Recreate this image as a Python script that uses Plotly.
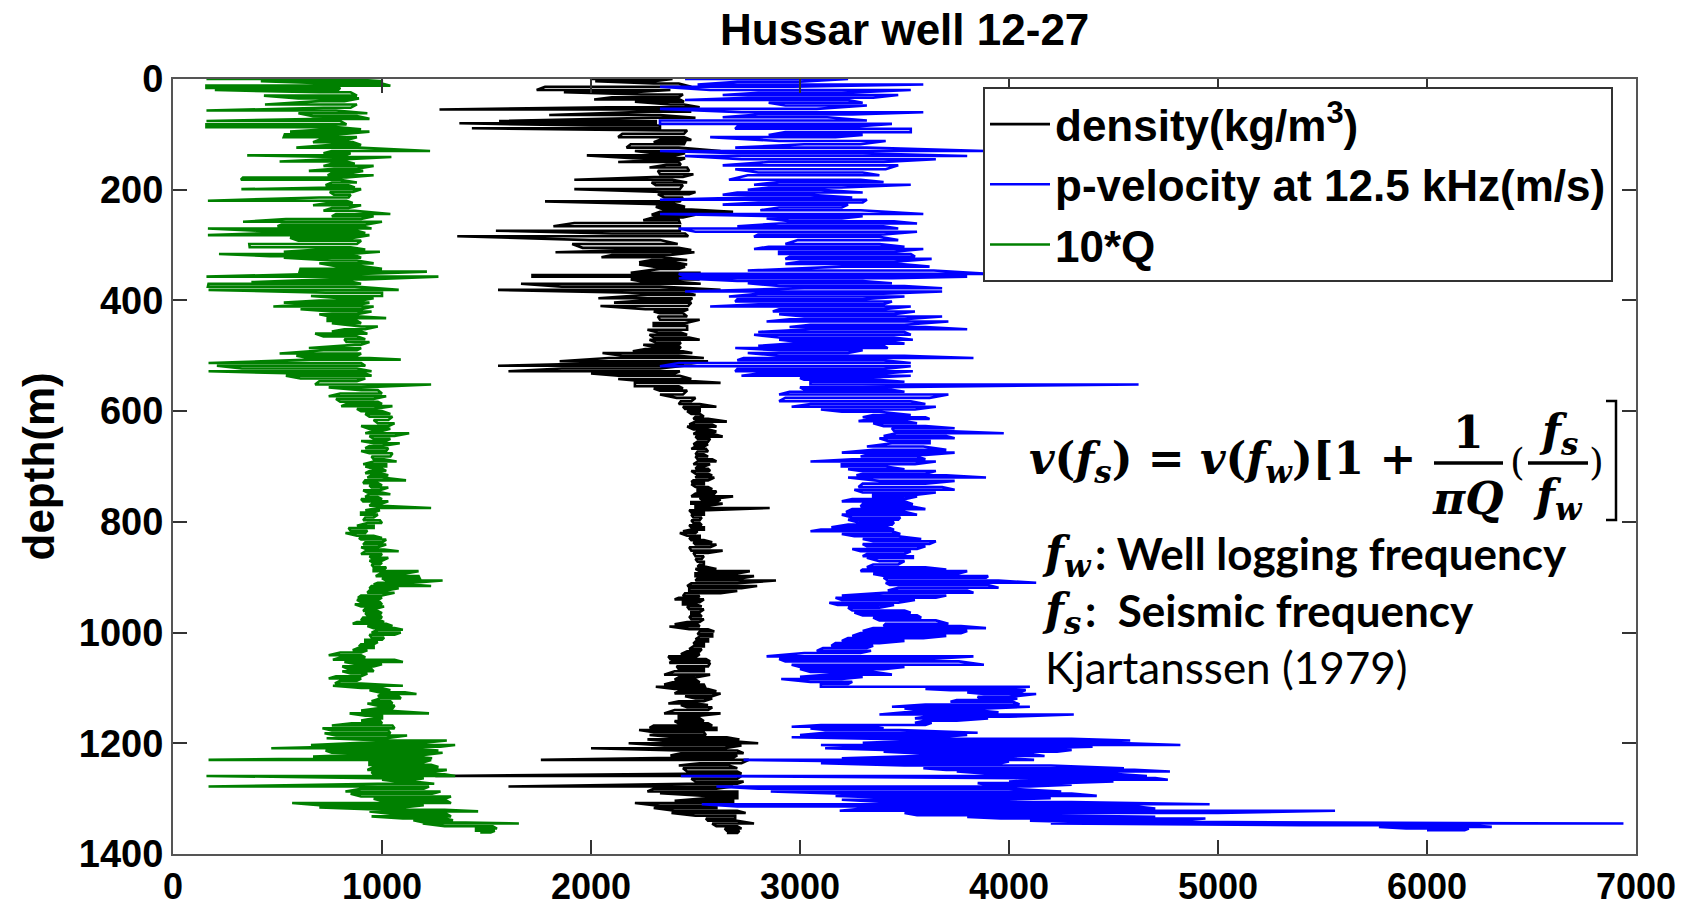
import plotly.graph_objects as go

# ---------------- data: (depth m, low value, high value) read per depth row ----------------
density_log = [
    (0, 1995, 2390), (4, 2020, 2300), (8, 2300, 2420), (14, 1780, 2480), (20, 1740, 2380),
    (24, 1870, 2200), (28, 2240, 2440), (33, 2100, 2420), (37, 2015, 2425), (41, 2210, 2445),
    (46, 2380, 2445), (51, 2080, 2520), (55, 1275, 2370), (59, 2290, 2480), (65, 1800, 2330),
    (70, 2290, 2500), (76, 1560, 2310), (80, 1370, 2310), (84, 2000, 2330), (89, 1430, 2330),
    (93, 2350, 2460), (99, 2150, 2445), (105, 2130, 2445), (110, 2330, 2480), (114, 2300, 2450),
    (118, 2190, 2445), (124, 2170, 2420), (130, 2210, 2620), (134, 2300, 2450), (138, 1980, 2405),
    (143, 2200, 2450), (147, 2300, 2420), (150, 2130, 2420), (155, 2360, 2430), (160, 2280, 2460),
    (166, 2320, 2470), (172, 2330, 2490), (177, 2300, 2440), (182, 1920, 2390), (187, 2290, 2460),
    (192, 2310, 2440), (199, 1920, 2425), (204, 2340, 2500), (208, 2320, 2470), (214, 2350, 2440),
    (221, 1780, 2425), (226, 2330, 2400), (231, 2310, 2450), (236, 2350, 2480), (240, 2330, 2680),
    (245, 2290, 2500), (250, 2300, 2440), (255, 2250, 2420), (260, 1920, 2425), (266, 1820, 2425),
    (274, 1545, 2425), (279, 2100, 2450), (284, 1360, 2465), (291, 2000, 2330), (298, 1910, 2415),
    (305, 1960, 2420), (309, 2200, 2480), (313, 1830, 2495), (318, 2100, 2380), (322, 2050, 2340),
    (327, 2290, 2460), (331, 2230, 2400), (335, 2230, 2460), (339, 2300, 2450), (343, 2330, 2420),
    (350, 2190, 2525), (354, 1720, 2330), (357, 1720, 2445), (362, 2190, 2520), (366, 2250, 2400),
    (370, 1665, 2525), (375, 1860, 2330), (381, 1555, 2620), (386, 2200, 2460), (390, 2270, 2500),
    (396, 2035, 2485), (400, 2250, 2470), (404, 2110, 2480), (410, 2045, 2465), (416, 2260, 2465),
    (420, 2300, 2440), (423, 2330, 2440), (429, 2320, 2460), (435, 2330, 2520), (441, 2300, 2450),
    (446, 2300, 2460), (453, 2270, 2460), (458, 2320, 2430), (462, 2280, 2460), (467, 2300, 2470),
    (471, 2280, 2520), (476, 2310, 2430), (480, 2250, 2420), (484, 2300, 2430), (488, 2260, 2420),
    (492, 2200, 2440), (495, 2055, 2485), (500, 2150, 2420), (504, 2085, 2540), (510, 1850, 2560),
    (514, 2000, 2480), (518, 1555, 2445), (523, 1860, 2330), (528, 1605, 2425), (532, 2000, 2400),
    (536, 2130, 2425), (542, 2130, 2480), (546, 2250, 2500), (549, 2210, 2620), (555, 2210, 2420),
    (559, 2300, 2440), (563, 2330, 2460), (570, 2330, 2440), (576, 2410, 2500), (582, 2430, 2480),
    (587, 2420, 2520), (592, 2440, 2600), (596, 2450, 2520), (600, 2460, 2520), (605, 2480, 2520),
    (610, 2500, 2540), (614, 2490, 2560), (619, 2500, 2650), (624, 2470, 2580), (628, 2460, 2600),
    (633, 2490, 2560), (637, 2510, 2600), (641, 2490, 2580), (646, 2500, 2630), (650, 2510, 2570),
    (655, 2510, 2560), (660, 2490, 2560), (664, 2500, 2540), (668, 2480, 2550), (673, 2510, 2560),
    (678, 2500, 2540), (682, 2500, 2560), (687, 2510, 2580), (691, 2510, 2600), (696, 2490, 2570),
    (700, 2510, 2540), (704, 2500, 2560), (708, 2480, 2570), (713, 2500, 2560), (716, 2510, 2580),
    (720, 2500, 2590), (725, 2490, 2560), (728, 2480, 2540), (732, 2480, 2540), (737, 2500, 2560),
    (741, 2510, 2580), (745, 2510, 2600), (749, 2500, 2590), (754, 2480, 2680), (757, 2520, 2620),
    (760, 2530, 2620), (764, 2480, 2600), (767, 2480, 2630), (771, 2500, 2560), (775, 2500, 2855),
    (779, 2470, 2560), (783, 2480, 2540), (787, 2480, 2540), (792, 2490, 2530), (797, 2480, 2520),
    (802, 2490, 2520), (806, 2470, 2530), (810, 2480, 2540), (814, 2480, 2540), (817, 2440, 2510),
    (820, 2425, 2500), (825, 2460, 2520), (829, 2470, 2520), (833, 2480, 2540), (837, 2490, 2580),
    (841, 2500, 2600), (846, 2470, 2570), (852, 2480, 2630), (856, 2490, 2560), (862, 2500, 2540),
    (867, 2500, 2530), (872, 2510, 2540), (877, 2520, 2540), (881, 2510, 2550), (885, 2500, 2600),
    (889, 2520, 2760), (893, 2500, 2700), (898, 2500, 2780), (902, 2510, 2720), (906, 2500, 2885),
    (911, 2480, 2700), (916, 2460, 2795), (920, 2470, 2720), (925, 2470, 2700), (929, 2450, 2620),
    (934, 2440, 2520), (937, 2420, 2510), (940, 2400, 2540), (945, 2440, 2520), (949, 2440, 2500),
    (953, 2460, 2530), (958, 2470, 2540), (963, 2480, 2520), (967, 2480, 2520), (971, 2470, 2530),
    (976, 2480, 2540), (981, 2460, 2520), (985, 2400, 2510), (989, 2375, 2520), (994, 2470, 2560),
    (998, 2520, 2590), (1003, 2510, 2580), (1007, 2520, 2580), (1012, 2500, 2560), (1016, 2500, 2560),
    (1020, 2490, 2540), (1025, 2490, 2540), (1030, 2470, 2530), (1034, 2460, 2520), (1039, 2430, 2520),
    (1043, 2370, 2505), (1048, 2380, 2550), (1052, 2390, 2570), (1055, 2375, 2570), (1061, 2410, 2560),
    (1066, 2420, 2540), (1070, 2400, 2540), (1076, 2350, 2570), (1081, 2420, 2500), (1085, 2400, 2500),
    (1090, 2390, 2520), (1094, 2350, 2540), (1098, 2310, 2545), (1102, 2400, 2560), (1106, 2420, 2600),
    (1110, 2400, 2620), (1115, 2450, 2580), (1119, 2500, 2580), (1124, 2420, 2540), (1128, 2370, 2500),
    (1131, 2430, 2560), (1135, 2460, 2580), (1140, 2400, 2560), (1146, 2350, 2620), (1150, 2420, 2520),
    (1155, 2420, 2520), (1160, 2400, 2540), (1164, 2420, 2560), (1168, 2300, 2580), (1172, 2280, 2600),
    (1176, 2230, 2600), (1180, 2300, 2540), (1185, 2280, 2550), (1189, 2400, 2650), (1193, 2270, 2710),
    (1197, 2400, 2700), (1200, 2180, 2800), (1204, 2350, 2720), (1209, 2000, 2640), (1213, 2420, 2700),
    (1218, 2430, 2730), (1222, 2380, 2700), (1226, 2400, 2680), (1230, 1760, 2755), (1236, 2520, 2720),
    (1240, 2420, 2660), (1245, 2440, 2700), (1251, 2460, 2700), (1255, 2450, 2720), (1259, 1255, 2720),
    (1264, 2480, 2700), (1269, 2500, 2730), (1273, 2460, 2700), (1278, 1605, 2680), (1282, 2300, 2600),
    (1287, 2270, 2700), (1290, 2330, 2700), (1295, 2550, 2700), (1299, 2560, 2700), (1304, 2400, 2680),
    (1308, 2210, 2680), (1313, 2330, 2600), (1317, 2300, 2600), (1322, 2400, 2700), (1326, 2385, 2740),
    (1331, 2500, 2690), (1336, 2550, 2690), (1340, 2560, 2700), (1345, 2580, 2780), (1350, 2600, 2700),
    (1354, 2640, 2720), (1358, 2650, 2710), (1362, 2650, 2700),
]

velocity_log = [
    (0, 2450, 3230), (5, 2700, 3000), (10, 2510, 3590), (14, 2330, 2970), (20, 2570, 3530),
    (25, 2800, 3200), (29, 2630, 3470), (34, 2750, 3350), (38, 2450, 3230), (43, 2850, 3300),
    (48, 2930, 3320), (54, 2330, 3080), (60, 2720, 3590), (64, 2800, 3250), (69, 2630, 3130),
    (75, 2330, 3320), (81, 2330, 3440), (86, 2700, 3250), (90, 2690, 3530), (96, 2930, 3530),
    (101, 2850, 3300), (105, 2570, 3170), (112, 2900, 3410), (118, 3020, 3290), (124, 2690, 3320),
    (130, 2330, 3890), (134, 2700, 3300), (139, 2450, 3800), (145, 2720, 3650), (150, 2850, 3400),
    (156, 2630, 3470), (163, 2690, 3410), (169, 2800, 3300), (174, 2750, 3380), (182, 2660, 3290),
    (186, 2900, 3400), (191, 2780, 3530), (196, 2850, 3200), (200, 2750, 3100), (205, 2700, 3300),
    (209, 2630, 3050), (214, 2750, 3250), (218, 2330, 3320), (223, 2800, 3300), (227, 2630, 3230),
    (232, 2900, 3200), (237, 2810, 3290), (244, 2330, 3590), (248, 2900, 3300), (252, 2840, 3200),
    (257, 2950, 3450), (261, 2900, 3560), (266, 2700, 3400), (270, 2420, 3470), (276, 2500, 3560),
    (281, 2800, 3400), (285, 2780, 3380), (291, 2990, 3470), (298, 2930, 3380), (303, 2850, 3500),
    (307, 2780, 3590), (312, 2900, 3450), (316, 2900, 3530), (321, 2950, 3550), (325, 2930, 3630),
    (330, 3000, 3450), (334, 2930, 3470), (339, 3200, 3620), (346, 2750, 3640), (352, 2420, 3900),
    (357, 2450, 3800), (360, 2420, 3440), (365, 2700, 3300), (369, 2750, 3440), (374, 2900, 3500),
    (378, 3020, 3680), (384, 2450, 3680), (388, 2800, 3400), (393, 2660, 3500), (398, 2700, 3300),
    (402, 2690, 3440), (407, 2800, 3400), (411, 2570, 3530), (416, 2900, 3400), (420, 2870, 3550),
    (425, 2900, 3450), (429, 3020, 3680), (434, 2950, 3500), (438, 2840, 3710), (444, 3050, 3500),
    (448, 2950, 3600), (452, 3050, 3800), (457, 2800, 3500), (462, 2780, 3530), (467, 2900, 3450),
    (471, 2900, 3540), (475, 3000, 3450), (478, 2960, 3500), (482, 2800, 3400), (486, 2690, 3420),
    (490, 2900, 3300), (495, 2750, 3230), (500, 2900, 3500), (504, 2730, 3830), (508, 2700, 3400),
    (513, 2420, 3530), (519, 2330, 3530), (524, 2700, 3400), (528, 2690, 3540), (532, 2800, 3400),
    (536, 2720, 3530), (540, 3000, 3300), (543, 3020, 3350), (547, 3050, 3500), (552, 3050, 4620),
    (557, 3000, 3300), (561, 3020, 3430), (565, 2950, 3500), (570, 2900, 3710), (576, 2930, 3620),
    (582, 2900, 3530), (587, 3050, 3600), (592, 2960, 3650), (597, 3100, 3550), (601, 3200, 3380),
    (607, 3350, 3530), (611, 3300, 3600), (614, 3350, 3620), (618, 3280, 3500), (622, 3350, 3560),
    (627, 3400, 3600), (631, 3440, 3740), (636, 3450, 3700), (640, 3460, 3975), (645, 3400, 3700),
    (649, 3380, 3740), (654, 3420, 3620), (658, 3440, 3620), (664, 3320, 3590), (670, 3350, 3700),
    (675, 3200, 3740), (679, 3320, 3600), (682, 3290, 3560), (687, 3250, 3600), (691, 3050, 3650),
    (696, 3200, 3550), (700, 3200, 3410), (705, 3230, 3500), (708, 3290, 3650), (713, 3300, 3600),
    (716, 3270, 3700), (720, 3230, 3890), (726, 3380, 3740), (731, 3300, 3600), (737, 3280, 3680),
    (742, 3260, 3740), (747, 3300, 3650), (751, 3350, 3560), (754, 3350, 3560), (759, 3250, 3500),
    (763, 3200, 3500), (768, 3300, 3540), (772, 3290, 3530), (777, 3250, 3600), (782, 3220, 3500),
    (787, 3200, 3560), (792, 3250, 3480), (796, 3230, 3470), (801, 3280, 3450), (805, 3230, 3440),
    (810, 3150, 3420), (814, 3100, 3450), (817, 3050, 3440), (822, 3200, 3480), (826, 3260, 3470),
    (831, 3300, 3580), (835, 3350, 3650), (840, 3300, 3620), (844, 3320, 3600), (849, 3250, 3560),
    (853, 3290, 3530), (858, 3320, 3500), (862, 3300, 3540), (865, 3320, 3540), (871, 3380, 3500),
    (877, 3350, 3470), (882, 3320, 3600), (886, 3300, 3700), (889, 3290, 3800), (894, 3350, 3750),
    (898, 3410, 3900), (901, 3400, 3890), (906, 3420, 3950), (910, 3410, 4130), (914, 3430, 3900),
    (919, 3470, 3950), (924, 3420, 3800), (928, 3400, 3830), (933, 3200, 3700), (937, 3170, 3650),
    (941, 3200, 3550), (946, 3140, 3470), (950, 3180, 3450), (955, 3230, 3380), (960, 3250, 3500),
    (964, 3260, 3530), (969, 3300, 3560), (973, 3350, 3580), (978, 3380, 3650), (984, 3410, 3710),
    (988, 3400, 3770), (992, 3350, 3890), (997, 3300, 3800), (1001, 3290, 3770), (1006, 3250, 3700),
    (1010, 3230, 3590), (1015, 3200, 3500), (1019, 3170, 3380), (1024, 3150, 3350), (1028, 3110, 3320),
    (1033, 3080, 3340), (1037, 3020, 3290), (1043, 2840, 3830), (1048, 2900, 3600), (1052, 2930, 3760),
    (1058, 2960, 3880), (1062, 3000, 3500), (1066, 3000, 3400), (1071, 3050, 3350), (1076, 3140, 3440),
    (1080, 3000, 3300), (1084, 2910, 3200), (1089, 3050, 3250), (1093, 3100, 3230), (1098, 3100, 4100),
    (1102, 3600, 3900), (1104, 3720, 4080), (1108, 3800, 4050), (1111, 3880, 4130), (1116, 3850, 4000),
    (1119, 3860, 4040), (1122, 3750, 4000), (1125, 3720, 4020), (1130, 3600, 4050), (1134, 3440, 4100),
    (1137, 3500, 3900), (1140, 3550, 3830), (1144, 3500, 3950), (1148, 3380, 4310), (1152, 3600, 4000),
    (1155, 3550, 3900), (1159, 3600, 3750), (1163, 3550, 3630), (1167, 3100, 3600), (1170, 2960, 3350),
    (1173, 3050, 3400), (1176, 3120, 3480), (1181, 3120, 3850), (1185, 3000, 3800), (1189, 2960, 3650),
    (1192, 3400, 4300), (1195, 3620, 4580), (1199, 3300, 4500), (1203, 3100, 4820), (1206, 3350, 4400),
    (1209, 3120, 4140), (1212, 3400, 4300), (1215, 3400, 4230), (1219, 3600, 4100), (1223, 3560, 4170),
    (1227, 3200, 4000), (1230, 2730, 4120), (1233, 3300, 4000), (1236, 3100, 3960), (1240, 3500, 4200),
    (1245, 3590, 4550), (1248, 3700, 4600), (1251, 3750, 4770), (1255, 3900, 4500), (1259, 2430, 4660),
    (1263, 4100, 4700), (1266, 4130, 4760), (1269, 4000, 4500), (1272, 3850, 4250), (1275, 3900, 4300),
    (1278, 2600, 4100), (1282, 2800, 4000), (1287, 2860, 4250), (1291, 3200, 4300), (1295, 3170, 4420),
    (1299, 3500, 4200), (1302, 3200, 3950), (1306, 3400, 4300), (1310, 2530, 4960), (1314, 2700, 4600),
    (1318, 3300, 4700), (1322, 3190, 5560), (1326, 3500, 5000), (1330, 3560, 4150), (1333, 3800, 4700),
    (1336, 3960, 4940), (1340, 4100, 4800), (1342, 4330, 4830), (1345, 4200, 6940), (1348, 5400, 6200),
    (1351, 5770, 6310), (1354, 5900, 6200), (1357, 6000, 6180),
]

q10_log = [
    (0, 160, 830), (4, 420, 1005), (8, 750, 1000), (12, 160, 1040), (16, 160, 800),
    (20, 200, 790), (24, 700, 850), (30, 435, 880), (35, 600, 890), (40, 700, 820),
    (46, 440, 880), (52, 720, 850), (57, 160, 780), (62, 600, 930), (67, 670, 880),
    (72, 720, 940), (76, 160, 800), (82, 160, 830), (87, 160, 780), (91, 740, 900),
    (95, 560, 940), (100, 535, 790), (105, 530, 880), (110, 700, 830), (114, 670, 860),
    (119, 760, 900), (124, 590, 885), (130, 760, 1230), (134, 720, 850), (138, 355, 820),
    (141, 770, 1045), (145, 740, 830), (149, 510, 830), (153, 760, 870), (157, 720, 960),
    (162, 770, 880), (166, 650, 910), (170, 760, 850), (174, 740, 960), (178, 335, 830),
    (182, 325, 800), (187, 760, 880), (192, 730, 840), (196, 760, 870), (199, 327, 900),
    (204, 750, 860), (209, 770, 850), (214, 700, 840), (220, 167, 830), (224, 740, 860),
    (228, 670, 900), (233, 760, 840), (238, 720, 870), (244, 780, 1040), (248, 760, 960),
    (253, 540, 900), (258, 335, 1000), (263, 520, 920), (266, 500, 900), (270, 167, 950),
    (274, 400, 880), (278, 500, 920), (282, 167, 940), (287, 560, 860), (292, 600, 900),
    (298, 365, 880), (304, 367, 850), (308, 700, 920), (312, 530, 990), (316, 220, 850),
    (320, 463, 880), (323, 530, 900), (328, 760, 880), (333, 700, 960), (338, 780, 900),
    (343, 610, 1000), (348, 606, 1215), (352, 700, 900), (357, 160, 1270), (362, 750, 920),
    (367, 375, 860), (370, 170, 900), (375, 167, 870), (381, 170, 1080), (386, 730, 1000),
    (392, 660, 1000), (396, 800, 960), (400, 700, 900), (404, 530, 940), (408, 620, 880),
    (411, 480, 960), (416, 610, 900), (420, 760, 950), (425, 700, 880), (429, 750, 900),
    (432, 740, 1020), (437, 740, 880), (441, 760, 900), (447, 900, 980), (452, 820, 920),
    (456, 760, 900), (460, 680, 930), (465, 720, 880), (470, 820, 920), (475, 830, 940),
    (480, 870, 900), (486, 650, 900), (490, 720, 880), (496, 510, 900), (500, 590, 880),
    (504, 650, 940), (507, 660, 1090), (513, 170, 900), (518, 210, 920), (523, 330, 880),
    (528, 170, 950), (532, 600, 920), (536, 540, 950), (541, 610, 920), (546, 700, 880),
    (552, 680, 1235), (557, 745, 900), (562, 900, 980), (568, 800, 1000), (573, 745, 1020),
    (578, 780, 960), (583, 800, 980), (587, 830, 1000), (591, 805, 1050), (596, 880, 960),
    (600, 900, 1000), (605, 920, 1040), (610, 940, 1050), (616, 960, 1030), (622, 980, 1060),
    (627, 900, 1030), (632, 940, 1040), (636, 960, 1000), (640, 920, 1130), (645, 940, 1060),
    (650, 960, 1040), (654, 900, 1020), (658, 960, 1085), (663, 940, 1000), (667, 920, 1030),
    (672, 900, 1020), (676, 940, 1050), (682, 950, 1040), (687, 960, 1010), (691, 960, 1070),
    (696, 910, 1020), (700, 920, 1020), (704, 960, 1000), (708, 940, 1020), (712, 920, 990),
    (716, 950, 1030), (720, 930, 1000), (725, 920, 1115), (730, 910, 980), (734, 940, 1000),
    (738, 950, 1030), (743, 910, 990), (747, 930, 1000), (750, 940, 1040), (755, 920, 980),
    (759, 900, 1000), (763, 910, 1030), (768, 950, 990), (771, 940, 1000), (775, 980, 1235),
    (779, 920, 990), (783, 900, 960), (787, 900, 980), (792, 920, 960), (797, 910, 990),
    (802, 930, 1000), (807, 880, 960), (811, 840, 960), (816, 850, 930), (820, 825, 920),
    (825, 880, 960), (829, 890, 1000), (832, 900, 1020), (837, 920, 1000), (841, 910, 1020),
    (846, 900, 980), (850, 930, 1010), (853, 920, 1080), (858, 900, 1000), (862, 940, 990),
    (865, 950, 1030), (870, 940, 1000), (874, 960, 1000), (877, 950, 990), (882, 960, 1020),
    (886, 960, 1010), (889, 960, 1175), (894, 990, 1100), (898, 970, 1175), (902, 1000, 1180),
    (906, 1020, 1290), (910, 980, 1150), (913, 960, 1120), (916, 950, 1235), (920, 940, 1080),
    (924, 940, 1020), (928, 930, 1060), (933, 900, 1000), (937, 885, 1000), (941, 880, 980),
    (945, 900, 990), (949, 870, 1000), (953, 900, 1010), (957, 920, 970), (961, 910, 980),
    (965, 920, 1000), (969, 930, 990), (973, 910, 1000), (978, 900, 990), (981, 880, 1010),
    (984, 860, 1020), (988, 930, 1050), (992, 960, 1060), (995, 980, 1100), (1000, 950, 1090),
    (1004, 940, 1060), (1009, 950, 1010), (1013, 920, 1000), (1017, 920, 980), (1021, 900, 960),
    (1025, 890, 960), (1028, 885, 960), (1032, 860, 930), (1036, 800, 900), (1041, 745, 900),
    (1045, 800, 920), (1049, 765, 1060), (1053, 820, 1100), (1057, 880, 1000), (1061, 810, 960),
    (1066, 840, 950), (1070, 810, 960), (1074, 850, 930), (1079, 780, 900), (1083, 745, 900),
    (1087, 800, 880), (1092, 775, 900), (1096, 765, 1100), (1100, 900, 1000), (1104, 940, 1040),
    (1108, 990, 1110), (1111, 1000, 1165), (1115, 980, 1080), (1119, 990, 1090), (1124, 950, 1040),
    (1128, 930, 1050), (1132, 980, 1060), (1137, 980, 1050), (1141, 900, 1020), (1146, 845, 1225),
    (1150, 920, 1000), (1155, 960, 1000), (1159, 900, 990), (1164, 855, 1000), (1168, 760, 1050),
    (1173, 715, 1060), (1177, 760, 1030), (1182, 725, 1040), (1186, 780, 1120), (1191, 735, 1020),
    (1195, 1000, 1310), (1199, 900, 1200), (1203, 660, 1350), (1206, 800, 1280), (1209, 470, 1135),
    (1213, 730, 1270), (1217, 760, 1290), (1221, 900, 1200), (1224, 670, 1150), (1227, 860, 1240),
    (1230, 170, 1235), (1234, 940, 1200), (1239, 940, 1235), (1243, 960, 1270), (1248, 930, 1310),
    (1252, 950, 1250), (1256, 960, 1300), (1259, 160, 1350), (1263, 980, 1200), (1266, 1000, 1160),
    (1269, 1070, 1150), (1273, 980, 1250), (1278, 170, 1225), (1282, 900, 1200), (1287, 825, 1280),
    (1291, 850, 1240), (1296, 900, 1330), (1300, 960, 1300), (1304, 1000, 1310), (1308, 570, 1330),
    (1312, 700, 1200), (1316, 700, 1100), (1320, 1000, 1300), (1323, 940, 1460), (1328, 1060, 1310),
    (1332, 950, 1330), (1336, 1100, 1300), (1339, 1150, 1340), (1343, 1200, 1400), (1345, 1195, 1655),
    (1350, 1300, 1530), (1354, 1450, 1550), (1358, 1450, 1540), (1361, 1470, 1520),
]

series_names = ["density(kg/m<sup>3</sup>)", "p-velocity at 12.5 kHz(m/s)", "10*Q"]
series_colors = ["#000000", "#0000FF", "#008000"]
x_ticks = [0, 1000, 2000, 3000, 4000, 5000, 6000, 7000]
y_ticks = [0, 200, 400, 600, 800, 1000, 1200, 1400]

# ---------------- figure geometry (pixels) ----------------
W, H = 1699, 904
L, R, T, B = 173, 1636, 79, 854


def px(xp):
    return (xp - L) / (R - L)


def py(yp):
    return (B - yp) / (B - T)


def zigzag(rows):
    xs, ys = [], []
    for i, (d, lo, hi) in enumerate(rows):
        a, b = (lo, hi) if i % 2 == 0 else (hi, lo)
        xs += [a, b]
        ys += [d, d]
    return xs, ys


BOLD_FONT = "Liberation Sans, Arial, sans-serif"

fig = go.Figure()
for rows, name, color in zip([density_log, velocity_log, q10_log], series_names, series_colors):
    xs, ys = zigzag(rows)
    fig.add_trace(go.Scatter(x=xs, y=ys, mode="lines", name=name,
                             line=dict(color=color, width=2.6)))

axis_common = dict(showline=True, linecolor="#555555", linewidth=2, mirror="ticks",
                   ticks="inside", ticklen=14, tickwidth=1.5, tickcolor="#333333",
                   showgrid=False, zeroline=False, automargin=False)

fig.update_xaxes(range=[0, 7000], tickvals=x_ticks, ticklabelstandoff=0,
                 tickfont=dict(family=BOLD_FONT, size=36, color="black", weight="bold"),
                 **axis_common)
fig.update_yaxes(range=[1400, 0], tickvals=y_ticks,
                 tickfont=dict(family=BOLD_FONT, size=38, color="black", weight="bold"),
                 **axis_common)

fig.update_layout(
    width=W, height=H,
    margin=dict(l=L, r=W - R, t=T, b=H - B, autoexpand=False),
    paper_bgcolor="white", plot_bgcolor="white",
    showlegend=True,
    legend=dict(x=px(983), y=py(87), xanchor="left", yanchor="top",
                bgcolor="white", bordercolor="#333333", borderwidth=2,
                font=dict(family=BOLD_FONT, size=44, color="black", weight="bold"),
                itemwidth=60, tracegroupgap=0),
)

ann = []
# title and y-axis label
ann.append(dict(text="Hussar well 12-27", x=0.5, y=py(30), xref="paper", yref="paper",
                showarrow=False, xanchor="center", yanchor="middle",
                font=dict(family=BOLD_FONT, size=44, color="black", weight="bold")))
ann.append(dict(text="depth(m)", x=px(38), y=0.5, xref="paper", yref="paper", textangle=-90,
                showarrow=False, xanchor="center", yanchor="middle",
                font=dict(family=BOLD_FONT, size=44, color="black", weight="bold")))

MATH = "DejaVu Serif, Liberation Serif, serif"
SANS = "Lato, Open Sans, sans-serif"


def add(text, x, y, size, family, xanchor="left", weight="normal"):
    ann.append(dict(text=text, x=px(x), y=py(y), xref="paper", yref="paper", showarrow=False,
                    xanchor=xanchor, yanchor="middle",
                    font=dict(family=family, size=size, color="black", weight=weight)))


add("<i>v</i>(<i>f<sub>s</sub></i>) = <i>v</i>(<i>f<sub>w</sub></i>)[1 +", 1027, 462, 44, MATH, weight="bold")
add("1", 1468, 432, 44, MATH, xanchor="center", weight="bold")
add("<i>πQ</i>", 1468, 498, 44, MATH, xanchor="center", weight="bold")
add("(", 1517, 462, 38, MATH, xanchor="center")
add("<i>f<sub>s</sub></i>", 1558, 434, 44, MATH, xanchor="center", weight="bold")
add("<i>f<sub>w</sub></i>", 1558, 498, 44, MATH, xanchor="center", weight="bold")
add(")", 1596, 462, 38, MATH, xanchor="center")
add("<i>f<sub>w</sub></i>", 1040, 555, 44, MATH, weight="bold")
add(": Well logging frequency", 1093, 553, 44, SANS, weight="bold")
add("<i>f<sub>s</sub></i>", 1040, 612, 44, MATH, weight="bold")
add(":  Seismic frequency", 1083, 610, 44, SANS, weight="bold")
add("Kjartanssen (1979)", 1043, 667, 44, SANS)

shapes = [
    dict(type="line", xref="paper", yref="paper", x0=px(1434), x1=px(1503), y0=py(463), y1=py(463),
         line=dict(color="black", width=3.5)),
    dict(type="line", xref="paper", yref="paper", x0=px(1528), x1=px(1588), y0=py(463), y1=py(463),
         line=dict(color="black", width=3.5)),
    dict(type="path", xref="paper", yref="paper",
         path=f"M {px(1606)} {py(401)} L {px(1616)} {py(401)} L {px(1616)} {py(520)} L {px(1606)} {py(520)}",
         line=dict(color="black", width=2.5)),
]
fig.update_layout(annotations=ann, shapes=shapes)

fig.write_html("out.html")
